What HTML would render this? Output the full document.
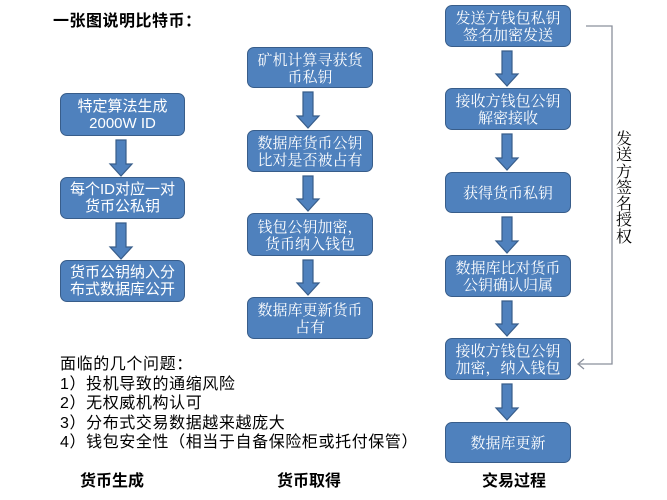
<!DOCTYPE html>
<html>
<head>
<meta charset="utf-8">
<style>
  html,body{margin:0;padding:0;background:#fff;}
  body{width:667px;height:500px;position:relative;overflow:hidden;}
  .box{position:absolute;box-sizing:border-box;background:#4f81bd;border:1.5px solid #385d8a;border-radius:7px;color:#fff;font-size:15px;line-height:17px;text-align:center;display:flex;align-items:center;justify-content:center;flex-direction:column;white-space:nowrap;}
  .sans{font-family:"Liberation Sans","Noto Sans CJK SC",sans-serif;}
  .serif{font-family:"Noto Serif CJK SC","Liberation Serif",serif;}
  .t{position:absolute;font-family:"Liberation Sans","Noto Sans CJK SC",sans-serif;color:#000;white-space:nowrap;}
  svg{position:absolute;left:0;top:0;}
</style>
</head>
<body>
<svg width="667" height="500" viewBox="0 0 667 500">
  <g fill="#4f81bd" stroke="#385d8a" stroke-width="1.2">
    <polygon points="116,140 126,140 126,164 132,164 121,176 110,164 116,164"/>
    <polygon points="116,223 126,223 126,247 132,247 121,259 110,247 116,247"/>
    <polygon points="303,92 313,92 313,116 319,116 308,128 297,116 303,116"/>
    <polygon points="303,176 313,176 313,199 319,199 308,211 297,199 303,199"/>
    <polygon points="303,260 313,260 313,283 319,283 308,295 297,283 303,283"/>
    <polygon points="502,51 512,51 512,74 518,74 507,86 496,74 502,74"/>
    <polygon points="502,134 512,134 512,158 518,158 507,170 496,158 502,158"/>
    <polygon points="502,217 512,217 512,241 518,241 507,253 496,241 502,241"/>
    <polygon points="502,301 512,301 512,324 518,324 507,336 496,324 502,324"/>
    <polygon points="502,384 512,384 512,408 518,408 507,420 496,408 502,408"/>
  </g>
  <polyline points="586,26 612,26 612,364 578,364" fill="none" stroke="#8a909c" stroke-width="1.3"/>
  <polyline points="584,359 578,364 584,369" fill="none" stroke="#8a909c" stroke-width="1.3"/>
</svg>

<div class="t" style="left:53px;top:12px;font-size:16px;font-weight:bold;line-height:20px;letter-spacing:0.5px;">一张图说明比特币：</div>

<div class="box sans" style="left:60px;top:93px;width:125px;height:43px;">特定算法生成<br>2000W ID</div>
<div class="box sans" style="left:60px;top:177px;width:125px;height:42px;">每个ID对应一对<br>货币公私钥</div>
<div class="box sans" style="left:60px;top:260px;width:125px;height:42px;">货币公钥纳入分<br>布式数据库公开</div>

<div class="box serif" style="left:247px;top:47px;width:126px;height:41px;">矿机计算寻获货<br>币私钥</div>
<div class="box serif" style="left:247px;top:130px;width:126px;height:42px;">数据库货币公钥<br>比对是否被占有</div>
<div class="box serif" style="left:247px;top:213px;width:126px;height:43px;">钱包公钥加密，<br>货币纳入钱包</div>
<div class="box serif" style="left:247px;top:297px;width:126px;height:42px;">数据库更新货币<br>占有</div>

<div class="box serif" style="left:445px;top:5px;width:126px;height:42px;">发送方钱包私钥<br>签名加密发送</div>
<div class="box serif" style="left:445px;top:88px;width:126px;height:42px;">接收方钱包公钥<br>解密接收</div>
<div class="box serif" style="left:445px;top:172px;width:126px;height:41px;">获得货币私钥</div>
<div class="box serif" style="left:445px;top:255px;width:126px;height:42px;">数据库比对货币<br>公钥确认归属</div>
<div class="box serif" style="left:445px;top:338px;width:126px;height:42px;">接收方钱包公钥<br>加密，纳入钱包</div>
<div class="box serif" style="left:445px;top:422px;width:126px;height:41px;">数据库更新</div>

<div class="t" style="left:616px;top:130px;width:16px;font-size:16px;line-height:16.3px;font-family:'Noto Serif CJK SC','Liberation Serif',serif;text-align:center;white-space:normal;">发<br>送<br>方<br>签<br>名<br>授<br>权</div>

<div class="t" style="left:60px;top:355px;font-size:16px;line-height:19.5px;letter-spacing:0.6px;">面临的几个问题：<br>1）投机导致的通缩风险<br>2）无权威机构认可<br>3）分布式交易数据越来越庞大<br>4）钱包安全性（相当于自备保险柜或托付保管）</div>

<div class="t" style="left:80px;top:472px;font-size:16px;font-weight:bold;line-height:20px;">货币生成</div>
<div class="t" style="left:277px;top:472px;font-size:16px;font-weight:bold;line-height:20px;">货币取得</div>
<div class="t" style="left:482px;top:472px;font-size:16px;font-weight:bold;line-height:20px;">交易过程</div>
</body>
</html>
